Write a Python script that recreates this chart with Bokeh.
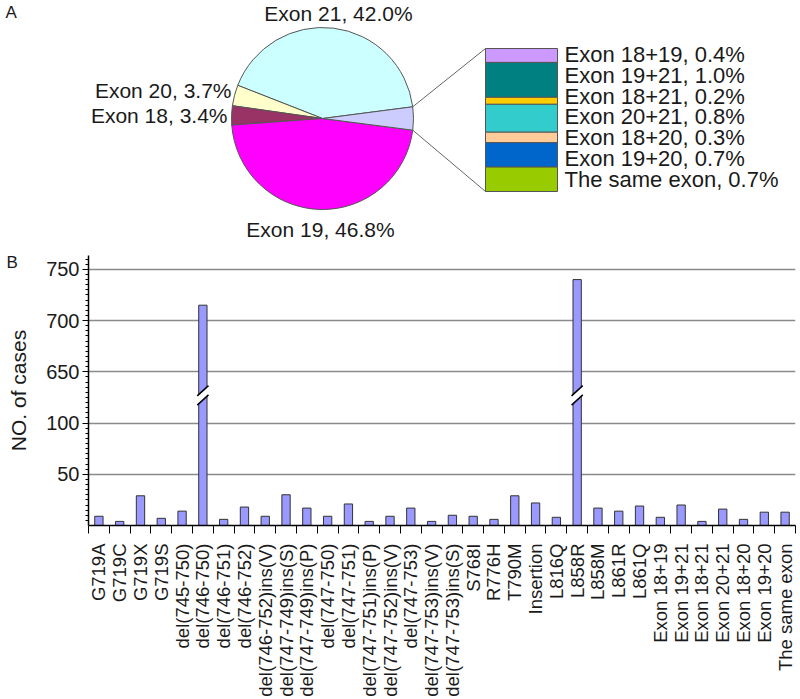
import math
from bokeh.plotting import figure
from bokeh.models import Range1d, FixedTicker, Title, CustomJSTickFormatter
from bokeh.layouts import column
from bokeh.embed import file_html
from bokeh.resources import INLINE
from bokeh.core.properties import value

FONT = "Liberation Sans"

# ---------------- Panel A data ----------------
pie_labels = ["Exon 21", "Exon 20", "Exon 18", "Exon 19", "Combined"]
pie_pct = [42.0, 3.7, 3.4, 46.8, 4.1]
pie_colors = ["#CCFFFF", "#FFFFCC", "#993366", "#FF00FF", "#CCCCFF"]

combo_labels = ["Exon 18+19", "Exon 19+21", "Exon 18+21", "Exon 20+21",
                "Exon 18+20", "Exon 19+20", "The same exon"]
combo_pct = [0.4, 1.0, 0.2, 0.8, 0.3, 0.7, 0.7]
combo_colors = ["#CC99FF", "#008080", "#FFCC00", "#33CCCC",
                "#FFCC99", "#0066CC", "#99CC00"]

# ---------------- Panel B data ----------------
mutations = ["G719A", "G719C", "G719X", "G719S", "del(745-750)", "del(746-750)",
             "del(746-751)", "del(746-752)", "del(746-752)ins(V)", "del(747-749)ins(S)",
             "del(747-749)ins(P)", "del(747-750)", "del(747-751)", "del(747-751)ins(P)",
             "del(747-752)ins(V)", "del(747-753)", "del(747-753)ins(V)", "del(747-753)ins(S)",
             "S768I", "R776H", "T790M", "Insertion", "L816Q", "L858R", "L858M", "L861R",
             "L861Q", "Exon 18+19", "Exon 19+21", "Exon 18+21", "Exon 20+21",
             "Exon 18+20", "Exon 19+20", "The same exon"]
cases = [9, 4, 29, 7, 14, 715, 6, 18, 9, 30, 17, 9, 21, 4, 9, 17, 4, 10,
         9, 6, 29, 22, 8, 740, 17, 14, 19, 8, 20, 4, 16, 6, 13, 13]
y_tick_values = [50, 100, 650, 700, 750]

# axis break: values above BREAK_LOW are shifted down by BREAK_SHIFT
BREAK_LOW = 125
BREAK_SHIFT = 500


def disp(v):
    return v if v <= BREAK_LOW else v - BREAK_SHIFT


# shared frame borders (column layouts align plot frames)
W = 800
BL, BR = 88, 5

# ================= Panel A =================
H1 = 250
p1 = figure(width=W, height=H1, x_range=Range1d(BL, W - BR), y_range=Range1d(0, H1),
            toolbar_location=None, output_backend="svg",
            min_border_left=BL, min_border_right=BR, min_border_top=0, min_border_bottom=0,
            x_axis_location=None, y_axis_location=None)
p1.grid.visible = False
p1.outline_line_color = None


def fy(y_from_top):
    return H1 - y_from_top


cx, cy, r = 322, fy(118), 91
start0 = math.radians(7.4)
starts, ends = [], []
acc = start0
for pct in pie_pct:
    starts.append(acc)
    acc += pct / 100.0 * 2 * math.pi
    ends.append(acc)

p1.wedge(x=[cx] * len(pie_pct), y=[cy] * len(pie_pct), radius=r,
         start_angle=starts, end_angle=ends, fill_color=pie_colors,
         line_color="#555555", line_width=1)

# connector lines from the combined slice to the stacked box
box_l, box_r, box_top, box_bot = 485, 557, 48, 191
a_lo, a_hi = starts[-1], ends[-1]
px_hi = (cx + r * math.cos(a_hi), cy + r * math.sin(a_hi))
px_lo = (cx + r * math.cos(a_lo), cy + r * math.sin(a_lo))
p1.segment(x0=[px_hi[0], px_lo[0]], y0=[px_hi[1], px_lo[1]],
           x1=[box_l, box_l], y1=[fy(box_top), fy(box_bot)],
           line_color="#666666", line_width=1)

# stacked box of combined mutations
tot = sum(combo_pct)
tops, bots = [], []
cur = box_top
for v in combo_pct:
    h = (box_bot - box_top) * v / tot
    tops.append(fy(cur))
    cur += h
    bots.append(fy(cur))
p1.quad(left=box_l, right=box_r, top=tops, bottom=bots,
        fill_color=combo_colors, line_color="#555555", line_width=1)

combo_text = [f"{n}, {v:.1f}%" for n, v in zip(combo_labels, combo_pct)]
p1.text(x=[564] * len(combo_text), y=[fy(54 + 20.8 * i) for i in range(len(combo_text))],
        text=combo_text, text_font=value(FONT), text_font_size="22px",
        text_baseline="middle", text_align="left", text_color="#1a1a1a")

# pie labels
pie_text = [f"{n}, {v:.1f}%" for n, v in zip(pie_labels[:4], pie_pct[:4])]
p1.text(x=[338, 231, 227, 320], y=[fy(13), fy(90), fy(115), fy(229)],
        text=pie_text, text_font=value(FONT), text_font_size="21px",
        text_baseline="middle", text_align=["center", "right", "right", "center"],
        text_color="#1a1a1a")

# panel letter A (title pulled into the plot area)
p1.add_layout(Title(text="A", align="left", offset=5 - BL, standoff=-43,
                    text_font=FONT, text_font_size="17px", text_font_style="normal",
                    text_color="#1a1a1a"), "above")

# ================= Panel B =================
H2 = 699 - H1
n = len(mutations)
TOP2 = 5
FRAME_H = 274
YMAX = 263.5
p2 = figure(width=W, height=H2, x_range=Range1d(0, n), y_range=Range1d(0, YMAX),
            toolbar_location=None, output_backend="svg",
            min_border_left=BL, min_border_right=BR, min_border_top=TOP2,
            min_border_bottom=H2 - TOP2 - FRAME_H)
p2.outline_line_color = None
p2.xgrid.visible = False

disp_ticks = [disp(v) for v in y_tick_values]
p2.yaxis.ticker = FixedTicker(ticks=disp_ticks, minor_ticks=list(range(5, 265, 5)))
p2.ygrid.ticker = FixedTicker(ticks=disp_ticks)
p2.ygrid.grid_line_color = "#8a8a8a"
p2.ygrid.grid_line_width = 1.5
p2.yaxis.major_label_overrides = {d: str(v) for d, v in zip(disp_ticks, y_tick_values)}
p2.yaxis.major_label_text_font = FONT
p2.yaxis.major_label_text_font_size = "20px"
p2.yaxis.major_label_text_color = "#1a1a1a"
p2.yaxis.major_label_standoff = 3
p2.yaxis.major_tick_out = 6
p2.yaxis.major_tick_in = 0
p2.yaxis.minor_tick_out = 3
p2.yaxis.minor_tick_in = 0
p2.yaxis.axis_line_width = 1.5
p2.yaxis.axis_label = "NO. of cases"
p2.yaxis.axis_label_text_font = FONT
p2.yaxis.axis_label_text_font_size = "21px"
p2.yaxis.axis_label_text_font_style = "normal"
p2.yaxis.axis_label_text_color = "#1a1a1a"
p2.yaxis.axis_label_standoff = 13

centers = [i + 0.5 for i in range(n)]
p2.xaxis.ticker = FixedTicker(ticks=centers, minor_ticks=list(range(n + 1)))
p2.xaxis.formatter = CustomJSTickFormatter(args=dict(labels=mutations),
                                           code="return labels[Math.floor(tick)];")
p2.xaxis.major_label_orientation = math.pi / 2
p2.xaxis.major_label_text_font = FONT
p2.xaxis.major_label_text_font_size = "18.5px"
p2.xaxis.major_label_text_color = "#1a1a1a"
p2.xaxis.major_label_standoff = 10
p2.xaxis.major_tick_out = 0
p2.xaxis.major_tick_in = 0
p2.xaxis.minor_tick_out = 8
p2.xaxis.minor_tick_in = 0
p2.xaxis.axis_line_width = 1.5

p2.vbar(x=centers, top=[disp(v) for v in cases], bottom=0, width=0.4,
        fill_color="#9999FF", line_color="#333333", line_width=1)

# break marks on bars that exceed the break
BRK = 127
for c, v in zip(centers, cases):
    if v > BREAK_LOW:
        hw = 0.27
        p2.patch(x=[c - hw, c + hw, c + hw, c - hw],
                 y=[BRK - 9.5, BRK + 0.5, BRK + 9.5, BRK - 0.5],
                 fill_color="white", line_color=None)
        p2.segment(x0=[c - hw, c - hw], y0=[BRK - 9.5, BRK - 0.5],
                   x1=[c + hw, c + hw], y1=[BRK + 0.5, BRK + 9.5],
                   line_color="black", line_width=1.5)

# panel letter B (title pulled down next to the axis top)
p2.add_layout(Title(text="B", align="left", offset=6 - BL, standoff=-32,
                    text_font=FONT, text_font_size="17px", text_font_style="normal",
                    text_color="#1a1a1a"), "above")

layout = column(p1, p2)
open("out.html", "w").write(file_html(layout, INLINE))
